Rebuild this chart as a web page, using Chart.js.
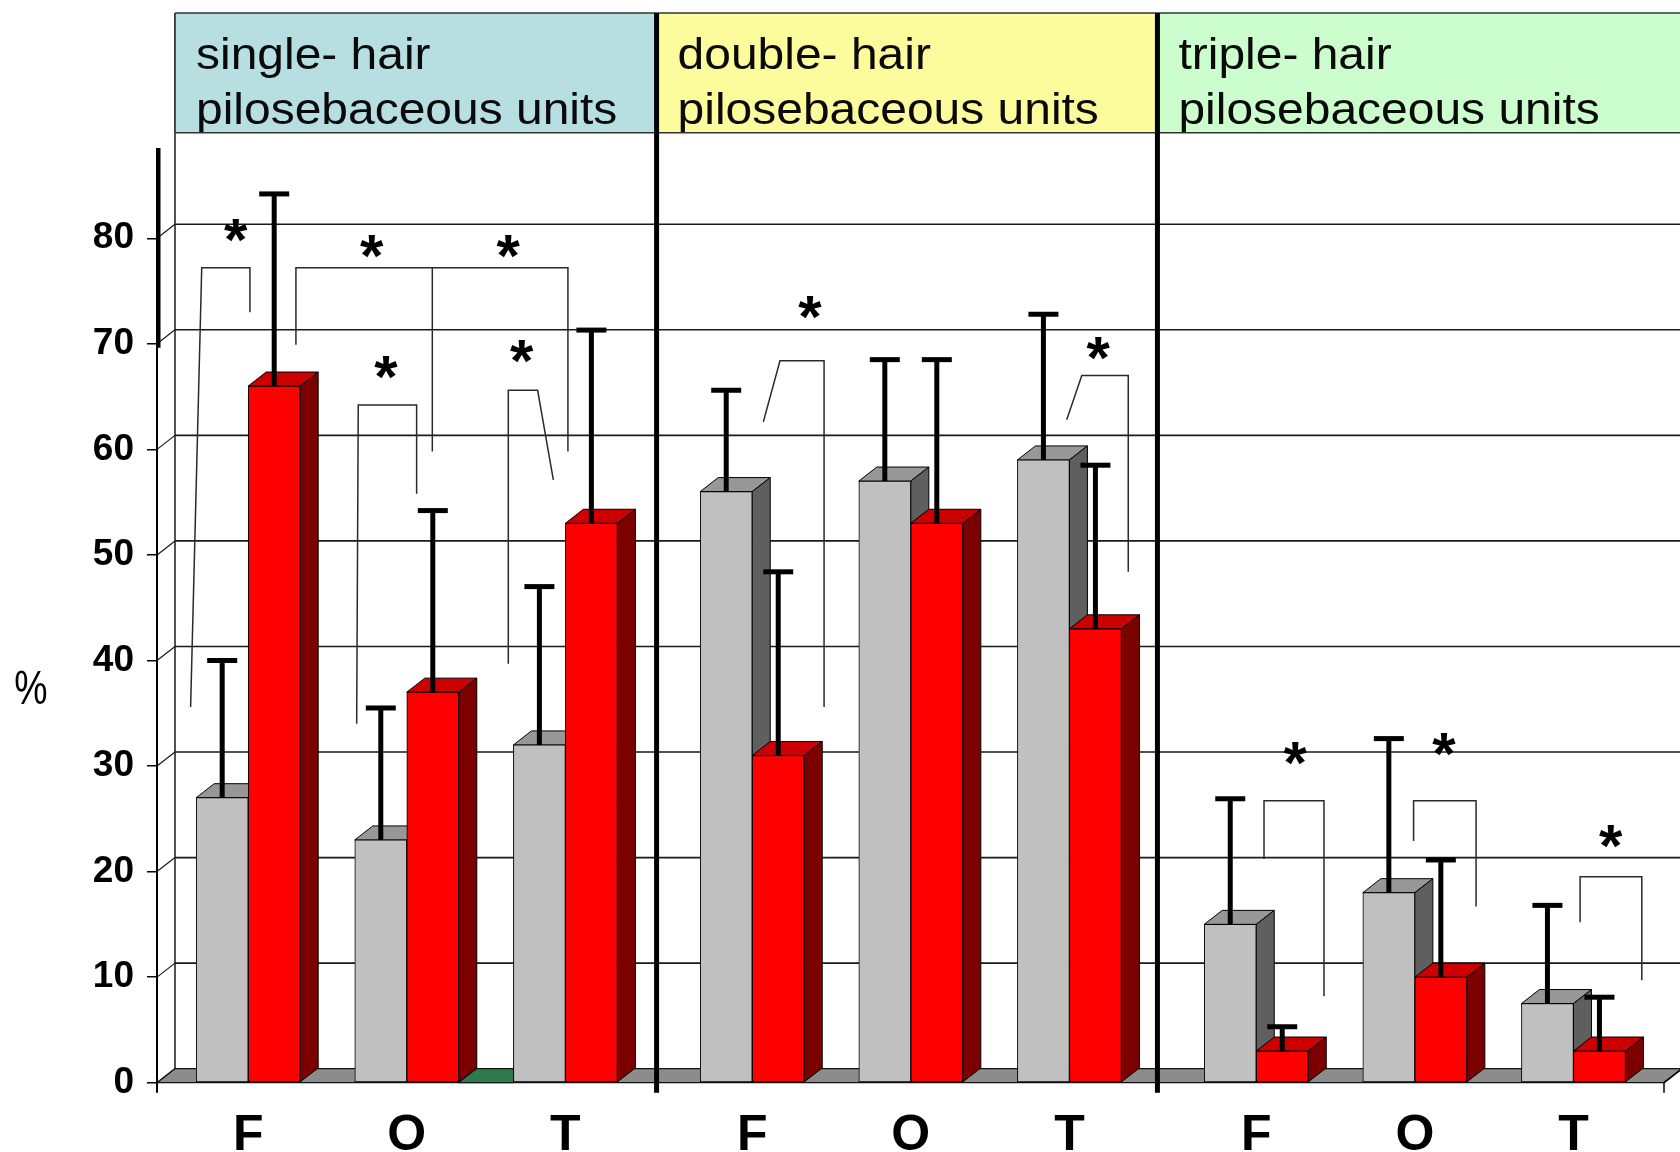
<!DOCTYPE html>
<html>
<head>
<meta charset="utf-8">
<title>Pilosebaceous units by site</title>
<script src="https://cdn.jsdelivr.net/npm/chart.js@4.4.1/dist/chart.umd.min.js"></script>
<style>
  html, body { margin: 0; padding: 0; background: #fff; overflow: hidden; }
  canvas { display: block; }
</style>
</head>
<body>
<canvas id="chart" width="1680" height="1152"></canvas>
<script>
// ---- data -------------------------------------------------------------
const panelTitles = [
  ['single- hair', 'pilosebaceous units'],
  ['double- hair', 'pilosebaceous units'],
  ['triple- hair', 'pilosebaceous units']
];
const siteLabels = ['F', 'O', 'T', 'F', 'O', 'T', 'F', 'O', 'T'];

const greyMeans = [27, 23, 32, 56, 57, 59, 15, 18, 7.5];
const greySD    = [13, 12.5, 15, 9.6, 11.5, 13.8, 11.9, 14.6, 9.3];
const redMeans  = [66, 37, 53, 31, 53, 43, 3, 10, 3];
const redSD     = [18.2, 17.2, 18.3, 17.4, 15.5, 15.5, 2.3, 11.1, 5.1];

const yMin = 0, yMax = 90, yStep = 10, yLabelMax = 80;

// significance brackets: polyline points [category index, offset in category widths, value %]
const brackets = [
  [[0, -0.363, 35.6], [0, -0.293, 77.2], [0, 0.011, 77.2], [0, 0.011, 73.0]],
  [[0, 0.301, 69.9], [0, 0.301, 77.2], [2, 0.016, 77.2], [2, 0.016, 59.8]],
  [[1, 0.161, 77.2], [1, 0.161, 59.8]],
  [[1, -0.316, 34.0], [1, -0.306, 64.2], [1, 0.062, 64.2], [1, 0.062, 55.8]],
  [[2, -0.360, 39.7], [2, -0.360, 65.6], [2, -0.175, 65.6], [2, -0.076, 57.1]],
  [[3, 0.070, 62.6], [3, 0.175, 68.4], [3, 0.453, 68.4], [3, 0.453, 35.6]],
  [[5, -0.017, 62.8], [5, 0.078, 67.0], [5, 0.371, 67.0], [5, 0.371, 48.4]],
  [[6, 0.049, 21.2], [6, 0.049, 26.7], [6, 0.427, 26.7], [6, 0.427, 8.2]],
  [[7, -0.008, 22.9], [7, -0.008, 26.7], [7, 0.386, 26.7], [7, 0.386, 16.7]],
  [[8, 0.042, 15.2], [8, 0.042, 19.5], [8, 0.431, 19.5], [8, 0.431, 9.7]]
];
// asterisk positions [category index, offset in category widths, value %]
const stars = [
  [0, -0.079, 80.7], [1, -0.221, 79.2], [2, -0.360, 79.2],
  [1, -0.131, 67.8], [2, -0.276, 69.3],
  [3, 0.364, 73.4], [5, 0.182, 69.6],
  [6, 0.245, 31.2], [7, 0.184, 32.0], [8, 0.234, 23.3]
];

// ---- layout -----------------------------------------------------------
const GROUP_GAP = 0.178;              // extra spacing between the three panels (x units)
const X_MIN = -0.575, X_MAX = 8.927;
const catPos = siteLabels.map((_, i) => i + Math.floor(i / 3) * GROUP_GAP);
const panelBreaks = [catPos[2] + 0.575, catPos[5] + 0.555];
const DX = 18, DY = -14;              // depth offset of the pseudo-3D walls and bars
const HEADER_TOP = 13;
const FONT = '"Liberation Sans", Arial, Helvetica, sans-serif';
const panelColors = ['#b7dfe2', '#fcfc9c', '#ccfdcc'];

const colours = {
  greyFront: '#c0c0c0', greyTop: '#979797', greySide: '#5f5f5f',
  redFront: '#ff0000', redTop: '#cc0000', redSide: '#7d0000',
  floor: '#8c8c8c', floorPatch: '#2e7a4c', grid: '#1a1a1a', bracket: '#2a2a2a'
};

function path(ctx, pts, fill, stroke, lw) {
  ctx.beginPath();
  ctx.moveTo(pts[0][0], pts[0][1]);
  for (let k = 1; k < pts.length; k++) ctx.lineTo(pts[k][0], pts[k][1]);
  if (fill) { ctx.closePath(); ctx.fillStyle = fill; ctx.fill(); }
  if (stroke) { ctx.strokeStyle = stroke; ctx.lineWidth = lw || 1; ctx.stroke(); }
}
function seg(ctx, x1, y1, x2, y2) {
  ctx.beginPath(); ctx.moveTo(x1, y1); ctx.lineTo(x2, y2); ctx.stroke();
}
function barBox(el) {
  const p = el.getProps(['x', 'y', 'base', 'width'], true);
  return { L: p.x - p.width / 2, R: p.x + p.width / 2, top: p.y, base: p.base, cx: p.x };
}

// walls, floor and the top/side faces of the columns, drawn beneath the front faces
const depthPlugin = {
  id: 'depth',
  beforeDatasetsDraw(chart) {
    const { ctx, chartArea: a, scales: { x, y } } = chart;
    const y0 = y.getPixelForValue(0);
    ctx.save();
    ctx.lineCap = 'butt';
    // back wall gridlines and the short connectors to the value axis
    ctx.strokeStyle = colours.grid; ctx.lineWidth = 1.6;
    y.ticks.forEach(t => {
      const py = y.getPixelForValue(t.value);
      if (t.value > 0) seg(ctx, a.left + DX, py + DY, chart.width, py + DY);
      ctx.lineWidth = 1.2;
      seg(ctx, a.left, py, a.left + DX, py + DY);
      ctx.lineWidth = 1.6;
    });
    ctx.lineWidth = 1.5;
    seg(ctx, a.left + DX, HEADER_TOP, a.left + DX, y0 + DY);
    // floor
    path(ctx, [[a.left, y0], [a.right, y0], [a.right + DX, y0 + DY], [a.left + DX, y0 + DY]],
         colours.floor, '#111', 1.2);
    const g = chart.getDatasetMeta(0).data, r = chart.getDatasetMeta(1).data;
    const rb = barBox(r[1]), gb = barBox(g[2]);
    path(ctx, [[rb.R, y0], [gb.L, y0], [gb.L + DX, y0 + DY], [rb.R + DX, y0 + DY]],
         colours.floorPatch, '#111', 1);
    // column tops and right-hand sides, left to right
    const faces = (el, topC, sideC) => {
      const b = barBox(el);
      path(ctx, [[b.L, b.top], [b.R, b.top], [b.R + DX, b.top + DY], [b.L + DX, b.top + DY]], topC, '#000', 1);
      path(ctx, [[b.R, b.top], [b.R + DX, b.top + DY], [b.R + DX, b.base + DY], [b.R, b.base]], sideC, '#000', 1);
    };
    for (let i = 0; i < g.length; i++) {
      faces(g[i], colours.greyTop, colours.greySide);
      faces(r[i], colours.redTop, colours.redSide);
    }
    ctx.restore();
  },
  afterDatasetsDraw(chart) {
    const { ctx, chartArea: a, scales: { x, y } } = chart;
    const y0 = y.getPixelForValue(0);
    ctx.save();
    // error bars (upper SD)
    ctx.strokeStyle = '#000'; ctx.lineWidth = 5; ctx.lineCap = 'butt';
    const sds = [greySD, redSD], means = [greyMeans, redMeans];
    [0, 1].forEach(d => {
      chart.getDatasetMeta(d).data.forEach((el, i) => {
        const b = barBox(el);
        const top = y.getPixelForValue(means[d][i] + sds[d][i]);
        seg(ctx, b.cx, b.top, b.cx, top);
        seg(ctx, b.cx - 15, top, b.cx + 15, top);
      });
    });
    // significance brackets
    const px = (c, off) => x.getPixelForValue(catPos[c] + off);
    ctx.lineJoin = 'miter';
    brackets.forEach(bk => {
      path(ctx, bk.map(p => [px(p[0], p[1]), y.getPixelForValue(p[2])]), null, colours.bracket, 1.5);
    });
    // asterisks
    ctx.fillStyle = '#000';
    ctx.font = 'bold 60px ' + FONT;
    ctx.textAlign = 'center'; ctx.textBaseline = 'alphabetic';
    const m = ctx.measureText('*');
    const shift = (m.actualBoundingBoxAscent - m.actualBoundingBoxDescent) / 2;
    stars.forEach(s => {
      ctx.fillText('*', px(s[0], s[1]), y.getPixelForValue(s[2]) + shift);
    });
    // panel headers
    const bx = panelBreaks.map(v => x.getPixelForValue(v));
    const edges = [a.left + DX, bx[0], bx[1], chart.width];
    const headerBottom = a.top;
    for (let p = 0; p < 3; p++) {
      ctx.fillStyle = panelColors[p];
      ctx.fillRect(edges[p], HEADER_TOP, edges[p + 1] - edges[p], headerBottom - HEADER_TOP);
      ctx.fillStyle = '#0a0a0a';
      ctx.font = '44px ' + FONT;
      ctx.textAlign = 'left'; ctx.textBaseline = 'alphabetic';
      const tx = edges[p] + 21;
      [68.5, 124].forEach((base, line) => {
        ctx.save();
        ctx.translate(tx, base);
        ctx.scale(1.09, 1);
        ctx.fillText(panelTitles[p][line], 0, 0);
        ctx.restore();
      });
    }
    ctx.strokeStyle = '#333'; ctx.lineWidth = 1.6;
    seg(ctx, a.left + DX, HEADER_TOP, chart.width, HEADER_TOP);
    seg(ctx, a.left + DX, headerBottom, chart.width, headerBottom);
    seg(ctx, a.left + DX, HEADER_TOP, a.left + DX, headerBottom);
    // panel dividers
    ctx.strokeStyle = '#000'; ctx.lineWidth = 5;
    bx.forEach(v => seg(ctx, v, HEADER_TOP, v, y0 + 10));
    // value axis line and category-axis ticks
    ctx.lineWidth = 2;
    seg(ctx, a.left, 148, a.left, y0 + 10);
    ctx.lineWidth = 4;
    seg(ctx, a.left + 1.5, 148, a.left + 1.5, y.getPixelForValue(70) + 4);
    ctx.lineWidth = 1.5;
    seg(ctx, a.right, y0, a.right, y0 + 10);
    seg(ctx, a.right, y0, a.right + DX, y0 + DY);
    // axis title
    ctx.fillStyle = '#000';
    ctx.font = '48px ' + FONT;
    ctx.textAlign = 'center'; ctx.textBaseline = 'middle';
    ctx.save();
    ctx.translate(31, 691);
    ctx.scale(0.78, 1);
    ctx.fillText('%', 0, 0);
    ctx.restore();
    ctx.restore();
  }
};

new Chart(document.getElementById('chart').getContext('2d'), {
  type: 'bar',
  data: {
    datasets: [
      {
        label: 'grey',
        data: catPos.map((p, i) => ({ x: p, y: greyMeans[i] })),
        backgroundColor: colours.greyFront, borderColor: '#000', borderWidth: 1,
        barThickness: 52, borderSkipped: false
      },
      {
        label: 'red',
        data: catPos.map((p, i) => ({ x: p, y: redMeans[i] })),
        backgroundColor: colours.redFront, borderColor: '#000', borderWidth: 1,
        barThickness: 52, borderSkipped: false
      }
    ]
  },
  options: {
    responsive: false,
    animation: false,
    devicePixelRatio: 1,
    layout: { padding: { left: 0, right: 16, top: 132.7, bottom: 0 } },
    plugins: { legend: { display: false }, tooltip: { enabled: false } },
    scales: {
      x: {
        type: 'linear', min: X_MIN, max: X_MAX, offset: false,
        grid: { display: false, offset: false }, border: { display: false },
        afterBuildTicks: s => { s.ticks = catPos.map(v => ({ value: v })); },
        afterFit: s => { s.height = 69.3; },
        ticks: {
          autoSkip: false, maxRotation: 0, minRotation: 0, padding: 16, color: '#000',
          font: { family: FONT, size: 50, weight: 'bold' },
          callback: (v, i) => siteLabels[i]
        }
      },
      y: {
        min: yMin, max: yMax,
        afterBuildTicks: s => { s.ticks = s.ticks.filter(t => t.value <= yLabelMax); },
        afterFit: s => { s.width = 157; },
        grid: { drawOnChartArea: false, drawTicks: true, tickLength: 10, color: '#000', lineWidth: 1.5 },
        border: { display: false },
        ticks: {
          stepSize: yStep, padding: 13, color: '#000',
          font: { family: FONT, size: 37, weight: 'bold' }
        }
      }
    }
  },
  plugins: [depthPlugin]
});
</script>
</body>
</html>
